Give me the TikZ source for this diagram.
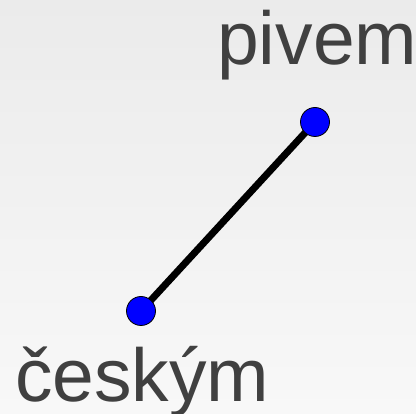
\documentclass[tikz,border=0pt]{standalone}
\usepackage{fontspec}
\setmainfont{Liberation Sans}
\definecolor{txtgray}{HTML}{404040}
\definecolor{bgtop}{HTML}{EBEBEB}
\definecolor{bgbot}{HTML}{F8F8F8}
\begin{document}
\begin{tikzpicture}[x=1pt,y=1pt,
  dot/.style={circle,draw=black,line width=0.8pt,fill=blue,minimum size=29pt,inner sep=0pt},
  lbl/.style={anchor=base west,inner sep=0pt,text=txtgray,font=\fontsize{75}{75}\selectfont},
  edge/.style={line width=7pt,black}]
\useasboundingbox (0,0) rectangle (416,414);
\shade[top color=bgtop,bottom color=bgbot] (0,0) rectangle (416,414);
\coordinate (ca) at (141,103);
\coordinate (cb) at (315,292);
\draw[edge] (ca) -- (cb);
\node[dot] (a) at (ca) {};
\node[dot] (b) at (cb) {};
\node[lbl] (la) at (15,12) {českým};
\node[lbl] (lb) at (217,349) {pivem};
\end{tikzpicture}
\end{document}
